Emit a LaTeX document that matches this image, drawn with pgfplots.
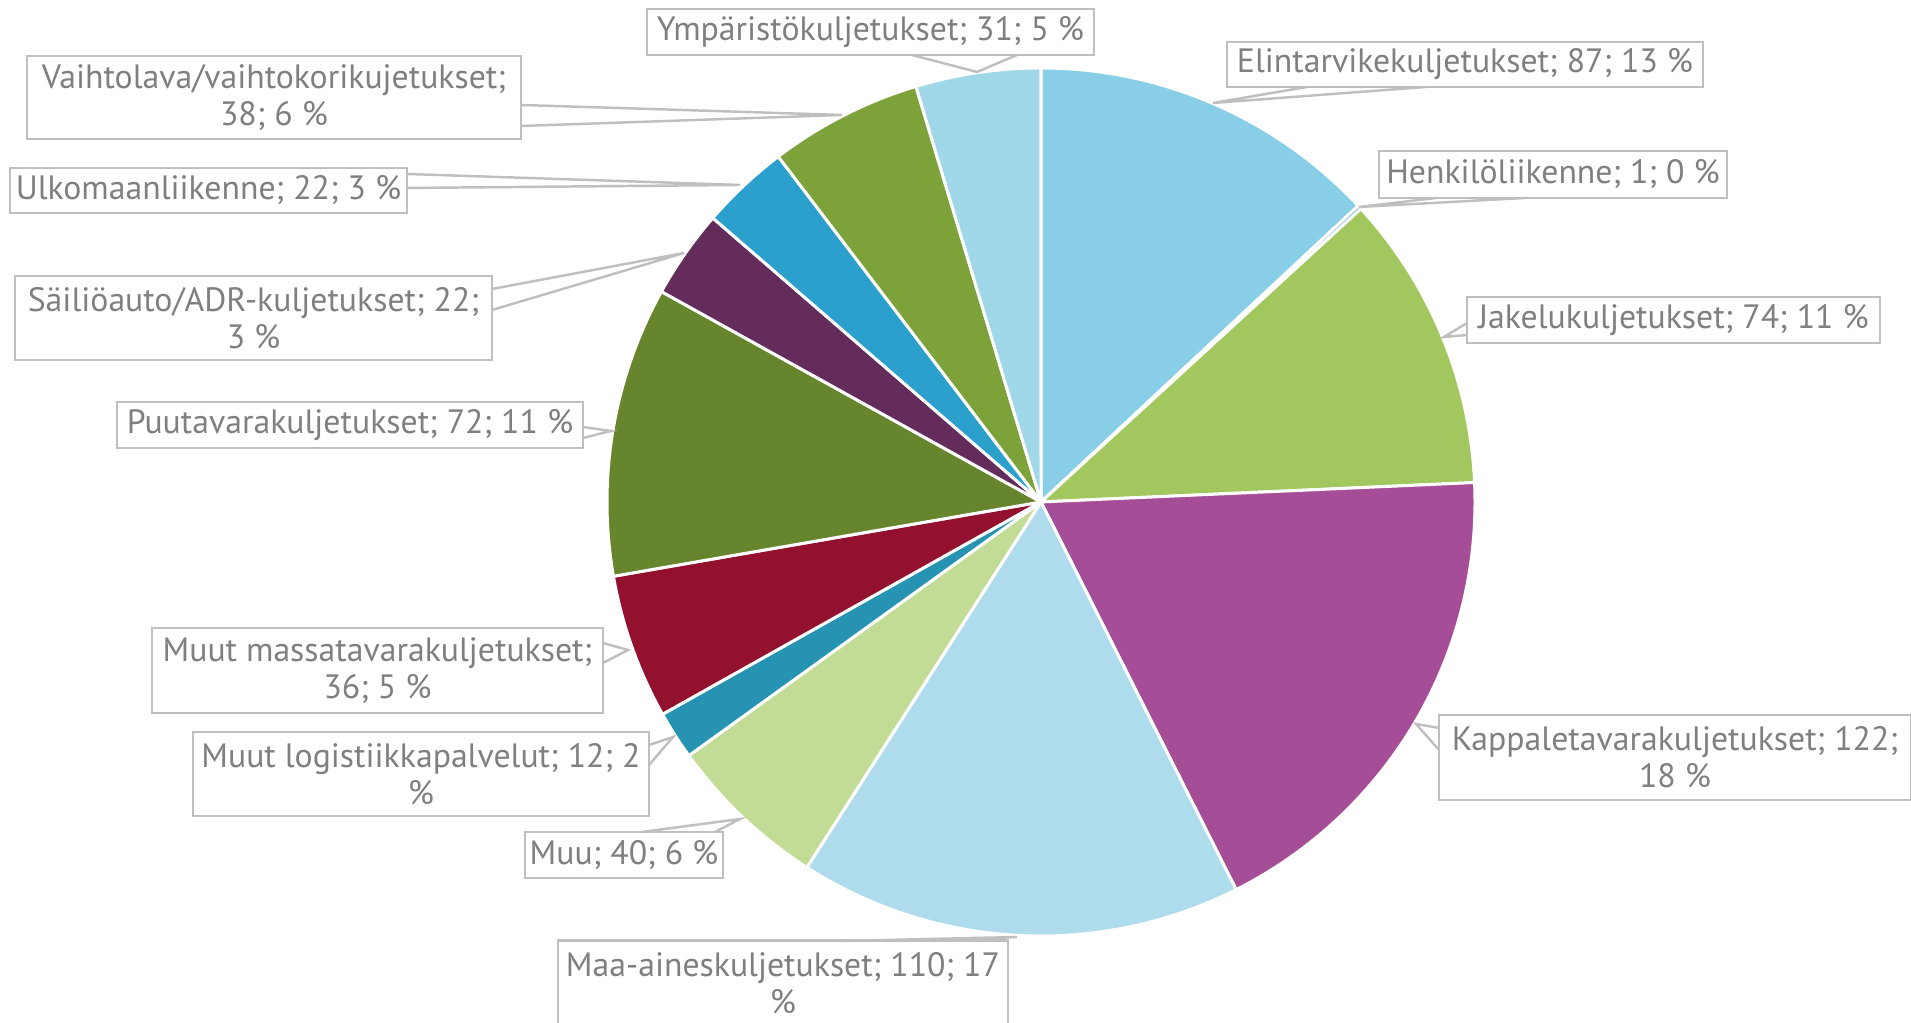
\documentclass[border=0pt]{standalone}
\usepackage{pgfplots}
\pgfplotsset{compat=1.18}
\usepackage{fontspec}
\setmainfont{PT Sans}
\definecolor{cElin}{HTML}{87CEE6}
\definecolor{cHenk}{HTML}{4BACC6}
\definecolor{cJake}{HTML}{A2C75E}
\definecolor{cKapp}{HTML}{A64D98}
\definecolor{cMaa}{HTML}{AEDCEC}
\definecolor{cMuu}{HTML}{C2DB95}
\definecolor{cMlog}{HTML}{2793B3}
\definecolor{cMmas}{HTML}{93112E}
\definecolor{cPuu}{HTML}{66852D}
\definecolor{cSail}{HTML}{632C5A}
\definecolor{cUlko}{HTML}{2CA0CC}
\definecolor{cVaih}{HTML}{7EA23A}
\definecolor{cYmpa}{HTML}{A0D8E9}
\definecolor{boxgray}{HTML}{BFBFBF}
\definecolor{txtgray}{HTML}{7F7F7F}
% values
\def\T{667}
\def\cur{90}
\newcommand\seg[3]{\pgfmathsetmacro\tmp{\cur-#3/\T*360}\xdef#1{\cur}\xdef#2{\tmp}\xdef\cur{\tmp}}
\seg\sA\eA{87}   % Elintarvikekuljetukset
\seg\sB\eB{1}    % Henkiloliikenne
\seg\sC\eC{74}   % Jakelukuljetukset
\seg\sD\eD{122}  % Kappaletavarakuljetukset
\seg\sE\eE{110}  % Maa-aineskuljetukset
\seg\sF\eF{40}   % Muu
\seg\sG\eG{12}   % Muut logistiikkapalvelut
\seg\sH\eH{36}   % Muut massatavarakuljetukset
\seg\sI\eI{72}   % Puutavarakuljetukset
\seg\sJ\eJ{22}   % Sailioauto
\seg\sK\eK{22}   % Ulkomaanliikenne
\seg\sL\eL{38}   % Vaihtolava
\seg\sM\eM{31}   % Ymparistokuljetukset
\newcommand\wedgeplot[3]{\addplot[fill=#3, draw=white, line width=0.85pt, line join=round, domain=#2:#1, samples=90, variable=\t] ({1041+434*cos(\t)},{521+434*sin(\t)}) -- (axis cs:1041,521) -- cycle;}
\newcommand\lbl[5]{\node[draw=boxgray, line width=0.7pt, fill=white, text=txtgray, minimum width={#3*0.1mm}, minimum height={#4*0.1mm}, inner sep=0pt, align=center, font=\fontsize{9.6}{10.6}\selectfont] at (axis cs:#1,#2) {#5};}
\newcommand\ptr[6]{\draw[boxgray, line width=0.7pt] (axis cs:#1,#2) -- (axis cs:#5,#6) -- (axis cs:#3,#4);}
\begin{document}
\begin{tikzpicture}
\clip (0,0) rectangle (19.11cm,10.23cm);
\begin{axis}[scale only axis, width=19.11cm, height=10.23cm, xmin=0, xmax=1911, ymin=0, ymax=1023, hide axis, clip=false]
\wedgeplot\sA\eA{cElin}
\wedgeplot\sB\eB{cHenk}
\wedgeplot\sC\eC{cJake}
\wedgeplot\sD\eD{cKapp}
\wedgeplot\sE\eE{cMaa}
\wedgeplot\sF\eF{cMuu}
\wedgeplot\sG\eG{cMlog}
\wedgeplot\sH\eH{cMmas}
\wedgeplot\sI\eI{cPuu}
\wedgeplot\sJ\eJ{cSail}
\wedgeplot\sK\eK{cUlko}
\wedgeplot\sL\eL{cVaih}
\wedgeplot\sM\eM{cYmpa}
% labels
\lbl{870.5}{991}{447}{46}{Ympäristökuljetukset; 31; 5 \%}
\ptr{912}{968}{1017}{968}{977}{951}
\lbl{274}{925.5}{494}{83}{Vaihtolava/vaihtokorikujetukset;\\38; 6 \%}
\ptr{521}{918}{521}{897}{842}{908}
\lbl{208.5}{832.5}{397}{45}{Ulkomaanliikenne; 22; 3 \%}
\ptr{407}{849}{407}{835}{740}{838}
\lbl{253.5}{705}{477}{84}{Säiliöauto/ADR-kuljetukset; 22;\\3 \%}
\ptr{492}{734}{492}{713}{684}{770}
\lbl{350}{598}{466}{46}{Puutavarakuljetukset; 72; 11 \%}
\ptr{583}{596}{583}{585}{611}{592}
\lbl{1465}{958.5}{476}{45}{Elintarvikekuljetukset; 87; 13 \%}
\ptr{1307}{936}{1426}{936}{1213}{920}
\lbl{1553}{848.5}{348}{47}{Henkilöliikenne; 1; 0 \%}
\ptr{1436}{825}{1524}{825}{1359}{816}
\lbl{1673.5}{703}{413}{46}{Jakelukuljetukset; 74; 11 \%}
\ptr{1467}{700}{1467}{688}{1444}{686}
\lbl{377.5}{352.5}{451}{85}{Muut massatavarakuljetukset;\\36; 5 \%}
\ptr{603}{380}{603}{360}{628}{373}
\lbl{421}{249}{456}{84}{Muut logistiikkapalvelut; 12; 2\\\%}
\ptr{649}{278}{649}{258}{673}{286}
\lbl{624}{168}{198}{46}{Muu; 40; 6 \%}
\ptr{642}{191}{715}{191}{740}{204}
\lbl{783}{40}{450}{85}{Maa-aineskuljetukset; 110; 17\\\%}
\ptr{842}{82}{933}{82}{1017}{86}
\lbl{1675}{265.5}{472}{85}{Kappaletavarakuljetukset; 122;\\18 \%}
\ptr{1439}{295}{1439}{273}{1416}{299}
\end{axis}
\end{tikzpicture}
\end{document}
